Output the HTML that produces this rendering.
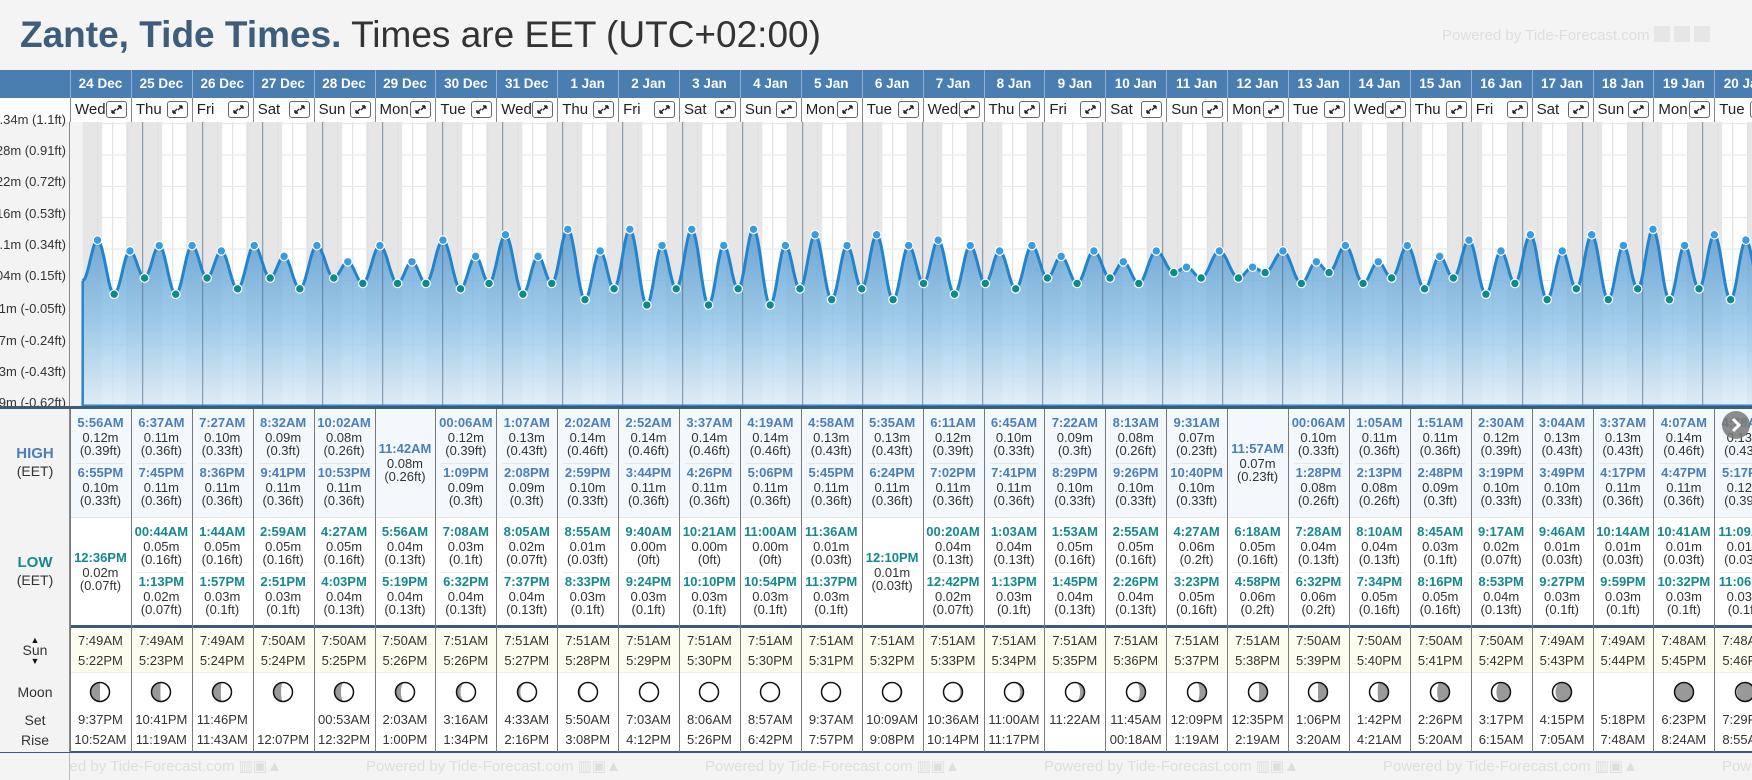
<!DOCTYPE html>
<html><head><meta charset="utf-8">
<style>
*{margin:0;padding:0;box-sizing:border-box}
body{width:1752px;height:780px;overflow:hidden;background:#f4f4f4;font-family:"Liberation Sans",Arial,sans-serif;position:relative;color:#333}
.a{position:absolute}
.t{position:absolute;text-align:center;white-space:nowrap;line-height:16px;height:16px}
#title{left:20px;top:14px;font-size:37px;letter-spacing:0px;white-space:nowrap;color:#333}
#title b{color:#3d5d7d}
.pw{position:absolute;color:#dedede;font-size:15px;white-space:nowrap}
</style></head><body>
<div id="title" class="a"><b>Zante, Tide Times.</b> Times are EET (UTC+02:00)</div>
<div class="pw" style="left:1442px;top:26px;">Powered by Tide-Forecast.com <span style="display:inline-block;width:16px;height:16px;background:#e6e6e6;vertical-align:-2px"></span> <span style="display:inline-block;width:16px;height:16px;background:#e6e6e6;vertical-align:-2px"></span> <span style="display:inline-block;width:16px;height:16px;background:#e6e6e6;vertical-align:-2px"></span></div>
<div id="root" class="a" style="left:0;top:0;width:1752px;height:780px;overflow:hidden"></div>
<script>
const dates=["24 Dec","25 Dec","26 Dec","27 Dec","28 Dec","29 Dec","30 Dec","31 Dec","1 Jan","2 Jan","3 Jan","4 Jan","5 Jan","6 Jan","7 Jan","8 Jan","9 Jan","10 Jan","11 Jan","12 Jan","13 Jan","14 Jan","15 Jan","16 Jan","17 Jan","18 Jan","19 Jan","20 Jan"];
const weekdays=["Wed","Thu","Fri","Sat","Sun","Mon","Tue","Wed","Thu","Fri","Sat","Sun","Mon","Tue","Wed","Thu","Fri","Sat","Sun","Mon","Tue","Wed","Thu","Fri","Sat","Sun","Mon","Tue"];
const hiTime1=["5:56AM","6:37AM","7:27AM","8:32AM","10:02AM","11:42AM","00:06AM","1:07AM","2:02AM","2:52AM","3:37AM","4:19AM","4:58AM","5:35AM","6:11AM","6:45AM","7:22AM","8:13AM","9:31AM","11:57AM","00:06AM","1:05AM","1:51AM","2:30AM","3:04AM","3:37AM","4:07AM","4:38AM"];
const hiM1=[0.12,0.11,0.10,0.09,0.08,0.08,0.12,0.13,0.14,0.14,0.14,0.14,0.13,0.13,0.12,0.10,0.09,0.08,0.07,0.07,0.10,0.11,0.11,0.12,0.13,0.13,0.14,0.13];
const hiFt1=["0.39","0.36","0.33","0.3","0.26","0.26","0.39","0.43","0.46","0.46","0.46","0.46","0.43","0.43","0.39","0.33","0.3","0.26","0.23","0.23","0.33","0.36","0.36","0.39","0.43","0.43","0.46","0.43"];
const hiTime2=["6:55PM","7:45PM","8:36PM","9:41PM","10:53PM",null,"1:09PM","2:08PM","2:59PM","3:44PM","4:26PM","5:06PM","5:45PM","6:24PM","7:02PM","7:41PM","8:29PM","9:26PM","10:40PM",null,"1:28PM","2:13PM","2:48PM","3:19PM","3:49PM","4:17PM","4:47PM","5:17PM"];
const hiM2=[0.10,0.11,0.11,0.11,0.11,null,0.09,0.09,0.10,0.11,0.11,0.11,0.11,0.11,0.11,0.11,0.10,0.10,0.10,null,0.08,0.08,0.09,0.10,0.10,0.11,0.11,0.12];
const hiFt2=["0.33","0.36","0.36","0.36","0.36",null,"0.3","0.3","0.33","0.36","0.36","0.36","0.36","0.36","0.36","0.36","0.33","0.33","0.33",null,"0.26","0.26","0.3","0.33","0.33","0.36","0.36","0.39"];
const loTime1=["12:36PM","00:44AM","1:44AM","2:59AM","4:27AM","5:56AM","7:08AM","8:05AM","8:55AM","9:40AM","10:21AM","11:00AM","11:36AM","12:10PM","00:20AM","1:03AM","1:53AM","2:55AM","4:27AM","6:18AM","7:28AM","8:10AM","8:45AM","9:17AM","9:46AM","10:14AM","10:41AM","11:09AM"];
const loM1=[0.02,0.05,0.05,0.05,0.05,0.04,0.03,0.02,0.01,0.00,0.00,0.00,0.01,0.01,0.04,0.04,0.05,0.05,0.06,0.05,0.04,0.04,0.03,0.02,0.01,0.01,0.01,0.01];
const loFt1=["0.07","0.16","0.16","0.16","0.16","0.13","0.1","0.07","0.03","0","0","0","0.03","0.03","0.13","0.13","0.16","0.16","0.2","0.16","0.13","0.13","0.1","0.07","0.03","0.03","0.03","0.03"];
const loTime2=[null,"1:13PM","1:57PM","2:51PM","4:03PM","5:19PM","6:32PM","7:37PM","8:33PM","9:24PM","10:10PM","10:54PM","11:37PM",null,"12:42PM","1:13PM","1:45PM","2:26PM","3:23PM","4:58PM","6:32PM","7:34PM","8:16PM","8:53PM","9:27PM","9:59PM","10:32PM","11:06PM"];
const loM2=[null,0.02,0.03,0.03,0.04,0.04,0.04,0.04,0.03,0.03,0.03,0.03,0.03,null,0.02,0.03,0.04,0.04,0.05,0.06,0.06,0.05,0.05,0.04,0.03,0.03,0.03,0.03];
const loFt2=[null,"0.07","0.1","0.1","0.13","0.13","0.13","0.13","0.1","0.1","0.1","0.1","0.1",null,"0.07","0.1","0.13","0.13","0.16","0.2","0.2","0.16","0.16","0.13","0.1","0.1","0.1","0.1"];
const sunRise=["7:49AM","7:49AM","7:49AM","7:50AM","7:50AM","7:50AM","7:51AM","7:51AM","7:51AM","7:51AM","7:51AM","7:51AM","7:51AM","7:51AM","7:51AM","7:51AM","7:51AM","7:51AM","7:51AM","7:51AM","7:50AM","7:50AM","7:50AM","7:50AM","7:49AM","7:49AM","7:48AM","7:48AM"];
const sunSet=["5:22PM","5:23PM","5:24PM","5:24PM","5:25PM","5:26PM","5:26PM","5:27PM","5:28PM","5:29PM","5:30PM","5:30PM","5:31PM","5:32PM","5:33PM","5:34PM","5:35PM","5:36PM","5:37PM","5:38PM","5:39PM","5:40PM","5:41PM","5:42PM","5:43PM","5:44PM","5:45PM","5:46PM"];
const moonRow1=["9:37PM","10:41PM","11:46PM","","00:53AM","2:03AM","3:16AM","4:33AM","5:50AM","7:03AM","8:06AM","8:57AM","9:37AM","10:09AM","10:36AM","11:00AM","11:22AM","11:45AM","12:09PM","12:35PM","1:06PM","1:42PM","2:26PM","3:17PM","4:15PM","5:18PM","6:23PM","7:29PM"];
const moonRow2=["10:52AM","11:19AM","11:43AM","12:07PM","12:32PM","1:00PM","1:34PM","2:16PM","3:08PM","4:12PM","5:26PM","6:42PM","7:57PM","9:08PM","10:14PM","11:17PM","","00:18AM","1:19AM","2:19AM","3:20AM","4:21AM","5:20AM","6:15AM","7:05AM","7:48AM","8:24AM","8:55AM"];
const moonShadow=[0.5,0.47,0.44,0.4,0.34,0.28,0.21,0.15,0.09,0.04,0,0,0.03,0.06,0.11,0.17,0.23,0.3,0.37,0.44,0.5,0.57,0.65,0.74,0.84,null,0.97,0.93];
const moonWaxing=[1,1,1,1,1,1,1,1,1,1,1,0,0,0,0,0,0,0,0,0,0,0,0,0,0,0,0,0];
const startLevel=0.045;
const tickM=["0.34m","0.28m","0.22m","0.16m","0.1m","0.04m","-0.01m","-0.07m","-0.13m","-0.19m"];
const tickFt=[1.1,0.91,0.72,0.53,0.34,0.15,-0.05,-0.24,-0.43,-0.62];
</script>
<script>
const root=document.getElementById('root');
const W=60.9,X0=70,N=dates.length;
const CX0=82.7,DAYW=60;
function yv(m){return 249-(m-0.1036)*541;}
function parseT(s){const pm=s.endsWith('PM');let [h,mi]=s.slice(0,-2).split(':').map(Number);h=h%12+(pm?12:0);return h*60+mi;}
function box(x,y,w,h,bg,name,extra){const d=document.createElement('div');d.className='a';d.style.cssText=`left:${x}px;top:${y}px;width:${w}px;height:${h}px;background:${bg};${extra||''}`;


root.appendChild(d);return d;}
function txt(x,y,w,s,css,name){const d=document.createElement('div');d.className='t';d.textContent=s;d.style.cssText+=`left:${x}px;top:${y-8}px;width:${w}px;${css||''}`;


root.appendChild(d);return d;}

box(0,70,1752,28,'#4a7db0','date-header-bar');
box(0,98,1752,24,'#fff','weekday-row');
for(let i=0;i<N;i++){
  const x=X0+i*W;
  box(x,70,W,28,'transparent','date-header-cell','border-left:1px solid #8fb0d0;');
  txt(x,84,W,dates[i],'color:#fff;font-weight:bold;font-size:13.5px;','date-label');
  box(x,98,W,24,'transparent','weekday-cell','border-left:1px solid #888;');
  txt(x+5,110,30,weekdays[i],'text-align:left;font-size:15px;color:#222;','weekday-label');
  const e=box(x+W-25,101,21,17,'#fff','expand-day-button','border:1px solid #666;border-radius:3px;');
  
  e.innerHTML='<svg width="19" height="15" viewBox="0 0 19 15"><path d="M5 11 L9 7 M5 11 h3 M5 11 v-3 M14 4 L10 8 M14 4 h-3 M14 4 v3" stroke="#222" stroke-width="1.4" fill="none"/></svg>';
}
box(0,122,70,630,'#f3f3f3','label-column','border-right:1px solid #888;');
for(let k=0;k<tickM.length;k++){
  const y=yv(tickFt[k]*0.3048)-4;
  txt(-60,y,126,tickM[k]+' ('+tickFt[k]+'ft)','text-align:right;font-size:13px;color:#333;','y-axis-label');
}
const NS='http://www.w3.org/2000/svg';
const svg=document.createElementNS(NS,'svg');
svg.setAttribute('width','1682');svg.setAttribute('height','285');
svg.style.cssText='position:absolute;left:70px;top:122px;';


root.appendChild(svg);
function el(tag,attrs,name){const e=document.createElementNS(NS,tag);for(const k in attrs)e.setAttribute(k,attrs[k]);


svg.appendChild(e);return e;}
const OX=70,OY=122;
const sx=(d,min)=>CX0+(d+min/1440)*DAYW-OX;
const sy=m=>yv(m)-OY;
el('rect',{x:0,y:0,width:1682,height:285,fill:'#f3f3f3'},'chart-background');
const defs=document.createElementNS(NS,'defs');
defs.innerHTML='<linearGradient id="g" x1="0" y1="100" x2="0" y2="285" gradientUnits="userSpaceOnUse"><stop offset="0" stop-color="#4f93cb"/><stop offset="0.55" stop-color="#8ec3e8"/><stop offset="1" stop-color="#e0edf8"/></linearGradient>';
svg.appendChild(defs);
for(let d=0;d<N;d++){
  const r=parseT(sunRise[d]),s=parseT(sunSet[d]);
  el('rect',{x:sx(d,0),y:0,width:sx(d,r)-sx(d,0),height:285,fill:'#e6e6e6'},'night-band');
  el('rect',{x:sx(d,r),y:0,width:sx(d,s)-sx(d,r),height:285,fill:'#fff'},'day-band');
  el('rect',{x:sx(d,s),y:0,width:sx(d,1440)-sx(d,s),height:285,fill:'#e6e6e6'},'night-band');
  for(const hh of [6,12,18]) el('line',{x1:sx(d,hh*60),x2:sx(d,hh*60),y1:0,y2:285,stroke:'#dedede','stroke-width':1},'hour-gridline');
}
for(let k=0;k<tickFt.length;k++){const y=sy(tickFt[k]*0.3048);el('line',{x1:12.7,x2:1682,y1:y,y2:y,stroke:'#e6e6e6','stroke-width':1},'level-gridline');}
const ev=[{t:0,m:startLevel,type:'s'}];
for(let d=0;d<N;d++){
  ev.push({t:d*1440+parseT(hiTime1[d]),m:hiM1[d],type:'h'});
  if(hiTime2[d])ev.push({t:d*1440+parseT(hiTime2[d]),m:hiM2[d],type:'h'});
  ev.push({t:d*1440+parseT(loTime1[d]),m:loM1[d],type:'l'});
  if(loTime2[d])ev.push({t:d*1440+parseT(loTime2[d]),m:loM2[d],type:'l'});
}
ev.sort((a,b)=>a.t-b.t);
let pts=[];
for(let i=0;i<ev.length-1;i++){const a=ev[i],b=ev[i+1];for(let k=0;k<12;k++){const f=k/12,c=(1-Math.cos(Math.PI*f))/2;pts.push([sx(0,a.t+(b.t-a.t)*f),sy(a.m+(b.m-a.m)*c)]);}}
const L=ev[ev.length-1];pts.push([sx(0,L.t),sy(L.m)]);
const line=pts.map((p,i)=>(i?'L':'M')+p[0].toFixed(1)+' '+p[1].toFixed(1)).join(' ');
const x0=pts[0][0];
el('path',{d:line+` L${pts[pts.length-1][0]} 284 L${x0} 284 Z`,fill:'url(#g)','fill-opacity':0.82},'tide-area');
for(let d=1;d<N;d++)el('line',{x1:sx(d,0),x2:sx(d,0),y1:0,y2:285,stroke:'#4f6b88','stroke-width':1,'stroke-opacity':0.75},'midnight-line');
el('line',{x1:x0,x2:x0,y1:sy(startLevel),y2:285,stroke:'#2a85cc','stroke-width':2.5},'area-left-edge');
el('line',{x1:x0,x2:1682,y1:283.5,y2:283.5,stroke:'#2a85cc','stroke-width':2},'area-bottom-edge');
el('path',{d:line,fill:'none',stroke:'#2384cc','stroke-width':3,'stroke-linejoin':'round'},'tide-line');
for(const e of ev){if(e.type==='s')continue;
  el('circle',{cx:sx(0,e.t),cy:sy(e.m),r:4.3,fill:e.type==='h'?'#3a9be0':'#0f8a8c',stroke:'#fff','stroke-width':1.2},e.type==='h'?'high-tide-point':'low-tide-point');}

box(0,406,1752,3,'#3b5b7b','section-border');
box(70,409,1682,108,'#f3f8fd','high-section');
box(70,517,1682,109,'#fff','low-section','border-top:1px solid #e4e4e4;');
box(0,625,1752,3,'#3b5b7b','section-border');
box(70,628,1682,44,'#fdfdef','sun-section');
box(70,672,1682,80,'#fff','moon-section','border-top:1px solid #eee;');
box(0,751,1752,2,'#3b5b7b','section-border');
box(0,753,1752,27,'#f4f4f4','footer');
box(0,409,70,343,'#f3f3f3','label-column-lower','border-right:1px solid #888;');
txt(0,454,70,'HIGH','font-weight:bold;font-size:15px;color:#4a7fb8;','high-label');
txt(0,471,70,'(EET)','font-size:14px;color:#333;','high-tz-label');
txt(0,563,70,'LOW','font-weight:bold;font-size:15px;color:#14898e;','low-label');
txt(0,580,70,'(EET)','font-size:14px;color:#333;','low-tz-label');
txt(0,640,70,'▲','font-size:9px;color:#111;','sunrise-arrow');
txt(0,650,70,'Sun','font-size:14px;color:#333;','sun-label');
txt(0,661,70,'▼','font-size:9px;color:#111;','sunset-arrow');
txt(0,692,70,'Moon','font-size:14px;color:#333;','moon-label');
txt(0,720,70,'Set','font-size:14px;color:#333;','moon-set-label');
txt(0,740,70,'Rise','font-size:14px;color:#333;','moon-rise-label');
const HC='font-weight:bold;font-size:13px;color:#4a7fb8;',LC='font-weight:bold;font-size:13px;color:#14898e;',VC='font-size:13px;color:#333;';
function entry(x,y,t,m,ft,c,nm){txt(x,y,W,t,c,nm+'-time');txt(x,y+15,W,m.toFixed(2)+'m',VC,nm+'-height-m');txt(x,y+28,W,'('+ft+'ft)',VC,nm+'-height-ft');}
for(let i=0;i<N;i++){
  const x=X0+i*W;
  box(x,409,1,343,'#7a7a7a','column-divider');
  if(hiTime2[i]){entry(x,423,hiTime1[i],hiM1[i],hiFt1[i],HC,'high-tide');box(x+6,463,W-12,1,'#e3e8ee','entry-separator');entry(x,473,hiTime2[i],hiM2[i],hiFt2[i],HC,'high-tide');}
  else entry(x,449,hiTime1[i],hiM1[i],hiFt1[i],HC,'high-tide');
  if(loTime2[i]){entry(x,532,loTime1[i],loM1[i],loFt1[i],LC,'low-tide');box(x+6,572,W-12,1,'#ececec','entry-separator');entry(x,582,loTime2[i],loM2[i],loFt2[i],LC,'low-tide');}
  else entry(x,558,loTime1[i],loM1[i],loFt1[i],LC,'low-tide');
  txt(x,641,W,sunRise[i],VC,'sunrise-time');
  txt(x,661,W,sunSet[i],VC,'sunset-time');
  txt(x,720,W,moonRow1[i],VC,'moon-set-time');
  txt(x,740,W,moonRow2[i],VC,'moon-rise-time');
  const s=moonShadow[i];
  if(s!==null){
    const cx=x+W/2,cy=692,r=9.5;
    const m=document.createElement('div');m.className='a';m.style.cssText=`left:${cx-11}px;top:${cy-11}px;width:22px;height:22px;`;
    
    
    const rx=Math.abs(1-2*s)*r;
    let p;
    if(moonWaxing[i]){const sw=s<0.5?1:0;p=`M11 ${11-r} A${r} ${r} 0 0 0 11 ${11+r} A${rx} ${r} 0 0 ${sw} 11 ${11-r}Z`;}
    else{const sw=s<0.5?0:1;p=`M11 ${11-r} A${r} ${r} 0 0 1 11 ${11+r} A${rx} ${r} 0 0 ${sw} 11 ${11-r}Z`;}
    m.innerHTML=`<svg width="22" height="22"><circle cx="11" cy="11" r="${r}" fill="#fff"/>${s>0?`<path d="${p}" fill="#999"/>`:''}<circle cx="11" cy="11" r="${r}" fill="none" stroke="#111" stroke-width="1.5"/></svg>`;
    root.appendChild(m);
  }
}
const nb=box(1722,411,28,28,'rgba(120,120,120,0.85)','next-page-button','border-radius:50%;');

nb.innerHTML='<svg width="28" height="28"><path d="M11 8 L17 14 L11 20" stroke="#fff" stroke-width="3" fill="none"/></svg>';
for(let k=0;k<6;k++){
  const d=document.createElement('div');d.className='pw';d.style.cssText=`left:${27+k*339}px;top:757px;`;
  d.textContent='Powered by Tide-Forecast.com ▥▣▲';
  
  
  root.appendChild(d);
}
box(0,753,70,27,'#f4f4f4','footer-left-cover','border-right:1px solid #bbb;');
</script>
</body></html>
